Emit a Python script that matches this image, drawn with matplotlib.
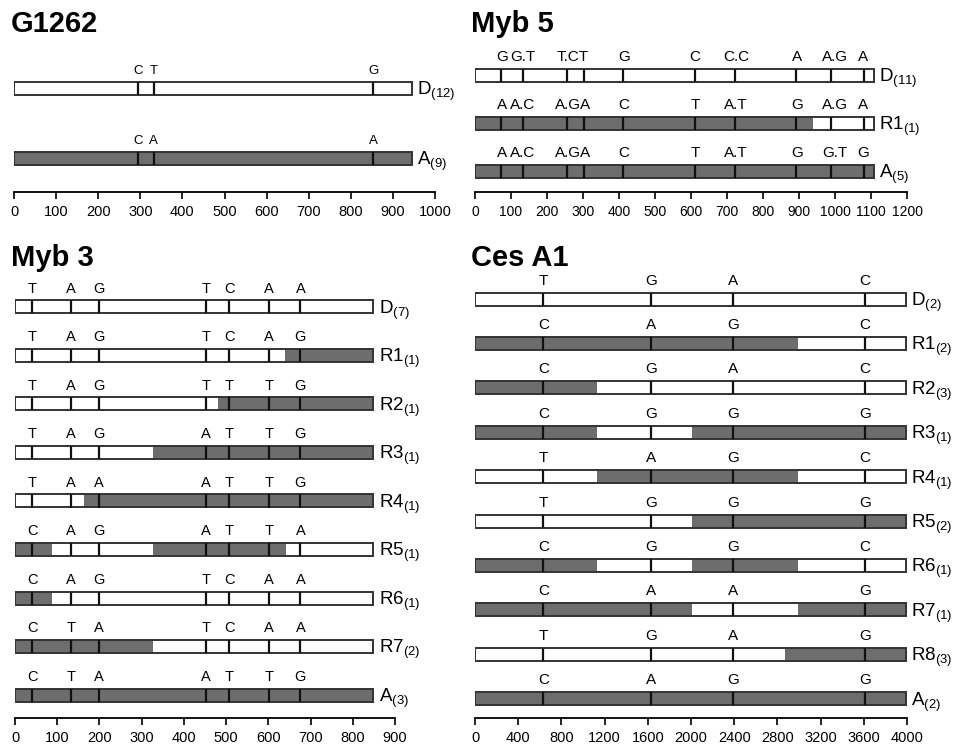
import matplotlib
matplotlib.use('Agg')
import matplotlib.pyplot as plt

plt.rcParams['font.family'] = ['Liberation Sans', 'DejaVu Sans']
plt.rcParams['mathtext.fontset'] = 'custom'
plt.rcParams['mathtext.rm'] = 'Liberation Sans'
plt.rcParams['mathtext.default'] = 'regular'

DARK = '#6d6d6d'
EDGE = '#333333'

# ---- G1262 ----
g1262_len = 945
g1262_snps = [295, 332, 853]
g1262_rows = ['D', 'A']
g1262_counts = [12, 9]
g1262_bases = [['C', 'T', 'G'],
               ['C', 'A', 'A']]
g1262_dark = [[], [(0, 945)]]

# ---- Myb 5 ----
myb5_len = 1108
myb5_snps = [72, 133, 255, 304, 412, 612, 722, 893, 990, 1080]
myb5_label_pos = [74, 133, 272, 414, 611, 725, 894, 1000, 1077]
myb5_rows = ['D', 'R1', 'A']
myb5_counts = [11, 1, 5]
myb5_bases = [['G', 'G.T', 'T.CT', 'G', 'C', 'C.C', 'A', 'A.G', 'A'],
              ['A', 'A.C', 'A.GA', 'C', 'T', 'A.T', 'G', 'A.G', 'A'],
              ['A', 'A.C', 'A.GA', 'C', 'T', 'A.T', 'G', 'G.T', 'G']]
myb5_dark = [[], [(0, 940)], [(0, 1108)]]

# ---- Myb 3 ----
myb3_len = 848
myb3_snps = [41, 132, 199, 453, 508, 601, 676]
myb3_rows = ['D', 'R1', 'R2', 'R3', 'R4', 'R5', 'R6', 'R7', 'A']
myb3_counts = [7, 1, 1, 1, 1, 1, 1, 2, 3]
myb3_bases = [['T', 'A', 'G', 'T', 'C', 'A', 'A'],
              ['T', 'A', 'G', 'T', 'C', 'A', 'G'],
              ['T', 'A', 'G', 'T', 'T', 'T', 'G'],
              ['T', 'A', 'G', 'A', 'T', 'T', 'G'],
              ['T', 'A', 'A', 'A', 'T', 'T', 'G'],
              ['C', 'A', 'G', 'A', 'T', 'T', 'A'],
              ['C', 'A', 'G', 'T', 'C', 'A', 'A'],
              ['C', 'T', 'A', 'T', 'C', 'A', 'A'],
              ['C', 'T', 'A', 'A', 'T', 'T', 'G']]
myb3_dark = [[], [(639, 848)], [(481, 848)], [(327, 848)], [(163, 848)],
             [(0, 88), (327, 641)], [(0, 88)], [(0, 327)], [(0, 848)]]

# ---- Ces A1 ----
ces_len = 3990
ces_snps = [633, 1631, 2388, 3608]
ces_rows = ['D', 'R1', 'R2', 'R3', 'R4', 'R5', 'R6', 'R7', 'R8', 'A']
ces_counts = [2, 2, 3, 1, 1, 2, 1, 1, 3, 2]
ces_bases = [['T', 'G', 'A', 'C'],
             ['C', 'A', 'G', 'C'],
             ['C', 'G', 'A', 'C'],
             ['C', 'G', 'G', 'G'],
             ['T', 'A', 'G', 'C'],
             ['T', 'G', 'G', 'G'],
             ['C', 'G', 'G', 'C'],
             ['C', 'A', 'A', 'G'],
             ['T', 'G', 'A', 'G'],
             ['C', 'A', 'G', 'G']]
ces_dark = [[], [(0, 2990)], [(0, 1130)], [(0, 1130), (2010, 3990)],
            [(1130, 2990)], [(2010, 3990)], [(0, 1130), (2010, 2990)],
            [(0, 2010), (2990, 3990)], [(2870, 3990)], [(0, 3990)]]

W, H = 955, 745
fig = plt.figure(figsize=(W / 100, H / 100), dpi=100)


def panel(title, title_xy, box, xmax, xstep, length, snps, label_pos,
          rows, counts, bases, dark, letter_size=10, tick_size=10.5):
    x0, x1, y_first, step, y_axis = box
    top = y_first - step
    ax = fig.add_axes([x0 / W, 1 - y_axis / H, (x1 - x0) / W, (y_axis - top) / H])
    ax.set_xlim(0, xmax)
    ax.set_ylim((y_axis - y_first) / step, -1)
    h = 13 / step
    for i, name in enumerate(rows):
        ax.barh(i, length, height=h, color='white', edgecolor='none')
        for a, b in dark[i]:
            ax.barh(i, b - a, left=a, height=h, color=DARK, edgecolor='none')
        ax.vlines(snps, i - h / 2, i + h / 2, color='#111111', lw=1.6)
        ax.barh(i, length, height=h, fill=False, edgecolor=EDGE, lw=1.4)
        for p, s in zip(label_pos, bases[i]):
            ax.annotate(s, (p, i - h / 2), xytext=(0, 3.5), textcoords='offset points',
                        ha='center', va='bottom', fontsize=letter_size)
        ax.annotate('$%s_{(%d)}$' % (name, counts[i]), (length, i), xytext=(4, -5),
                    textcoords='offset points', va='baseline', fontsize=13.5)
    ax.set_xticks(range(0, xmax + 1, xstep))
    ax.set_yticks([])
    for s in ['left', 'right', 'top']:
        ax.spines[s].set_visible(False)
    ax.spines['bottom'].set_linewidth(1.3)
    ax.tick_params(axis='x', length=5, width=1.2, pad=4, labelsize=tick_size)
    ax.patch.set_alpha(0)
    fig.text(title_xy[0] / W, 1 - title_xy[1] / H, title, fontsize=21,
             fontweight='bold', va='baseline', ha='left')


panel('G1262', (11, 32), (14, 435, 88, 70, 192), 1000, 100, g1262_len,
      g1262_snps, g1262_snps, g1262_rows, g1262_counts, g1262_bases, g1262_dark, 9.5)
panel('Myb 5', (471, 32), (475, 907, 75, 48, 192), 1200, 100, myb5_len,
      myb5_snps, myb5_label_pos, myb5_rows, myb5_counts, myb5_bases, myb5_dark, 11, 10)
panel('Myb 3', (11, 266), (15, 395, 307, 48.5, 718), 900, 100, myb3_len,
      myb3_snps, myb3_snps, myb3_rows, myb3_counts, myb3_bases, myb3_dark, 10.5)
panel('Ces A1', (471, 266), (475, 907, 299, 44.4, 718), 4000, 400, ces_len,
      ces_snps, ces_snps, ces_rows, ces_counts, ces_bases, ces_dark, 11)

fig.savefig('out.png', dpi=100)
